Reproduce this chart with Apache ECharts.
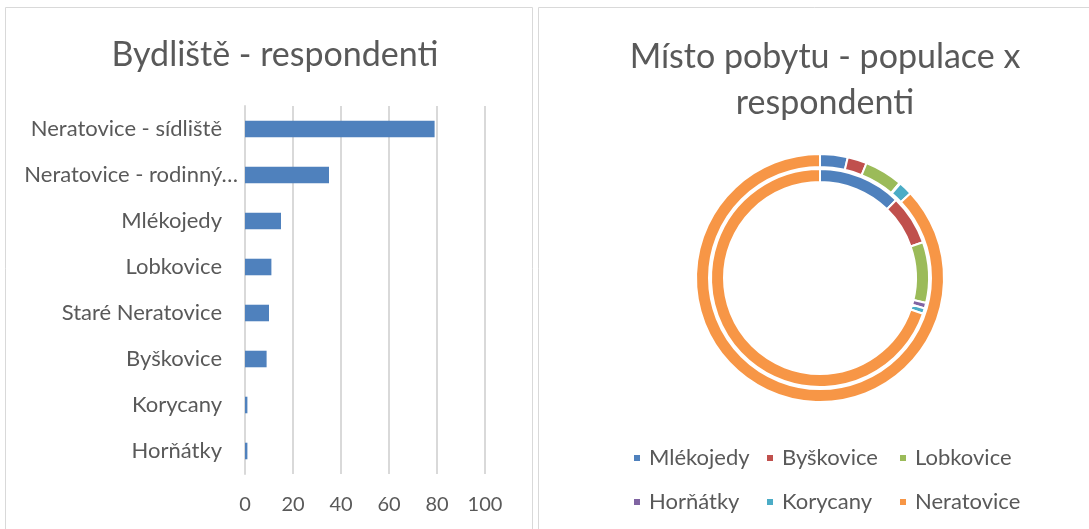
<!DOCTYPE html>
<html>
<head>
<meta charset="utf-8">
<script src="https://cdn.jsdelivr.net/npm/echarts@6/dist/echarts.min.js"></script>
<style>
  html, body { margin: 0; padding: 0; background: #fff; }
  #main { width: 1089px; height: 529px; }
</style>
</head>
<body>
<div id="main"></div>
<script>
// data - sloupcovy graf (bydliste)
var barCategories = ['Neratovice - sídliště', 'Neratovice - rodinný…', 'Mlékojedy', 'Lobkovice',
                     'Staré Neratovice', 'Byškovice', 'Korycany', 'Horňátky'];
var barValues = [79, 35, 15, 11, 10, 9, 1, 1];
var xTicks = [0, 20, 40, 60, 80, 100];

// data - prstencovy graf (populace x respondenti)
var places = ['Mlékojedy', 'Byškovice', 'Lobkovice', 'Horňátky', 'Korycany', 'Neratovice'];
var population = [600, 420, 830, 20, 300, 14500];
var respondents = [15, 9, 11, 1, 1, 85];

var colors = ['#4F81BD', '#C0504D', '#9BBB59', '#8064A2', '#4BACC6', '#F79646'];
var font = 'Lato';
var textColor = '#595959';

var chart = echarts.init(document.getElementById('main'));

function ring(name, values, radius) {
    return {
        name: name,
        type: 'pie',
        center: [820, 278],
        radius: radius,
        startAngle: 90,
        label: { show: false },
        labelLine: { show: false },
        itemStyle: { borderColor: '#fff', borderWidth: 2 },
        emphasis: { disabled: true },
        data: places.map(function (p, i) {
            return { name: p, value: values[i] };
        })
    };
}

function legendCol(names, left) {
    return {
        orient: 'vertical',
        left: left,
        top: 442,
        itemGap: 22,
        itemWidth: 8,
        itemHeight: 8,
        icon: 'rect',
        data: names,
        textStyle: { color: textColor, fontSize: 22, fontFamily: font, padding: [0, 0, 0, 3] }
    };
}

// posledni popisek je v originale zkraceny a presahuje doprava
var yData = barCategories.map(function (c) {
    if (c.indexOf('…') > 0) {
        return { value: c, textStyle: { padding: [0, -16, 0, 0] } };
    }
    return c;
});

option = {
    color: colors,
    title: [
        {
            text: 'Bydliště - respondenti',
            left: 270, top: 27, textAlign: 'center',
            textStyle: { color: textColor, fontSize: 34, fontWeight: 'normal', fontFamily: font, lineHeight: 46 }
        },
        {
            text: 'Místo pobytu - populace x\nrespondenti',
            left: 820, top: 29, textAlign: 'center',
            textStyle: { color: textColor, fontSize: 34, fontWeight: 'normal', fontFamily: font, lineHeight: 46 }
        }
    ],
    legend: [
        legendCol(['Mlékojedy', 'Horňátky'], 627),
        legendCol(['Byškovice', 'Korycany'], 760),
        legendCol(['Lobkovice', 'Neratovice'], 893)
    ],
    grid: { left: 245, top: 106, width: 240, height: 368 },
    xAxis: {
        type: 'value',
        min: xTicks[0],
        max: xTicks[xTicks.length - 1],
        interval: 20,
        axisLine: { show: false },
        axisTick: { show: false },
        axisLabel: { color: textColor, fontSize: 20, fontFamily: font, margin: 21 },
        splitLine: { lineStyle: { color: '#d9d9d9', width: 2 } }
    },
    yAxis: {
        type: 'category',
        inverse: true,
        data: yData,
        axisLine: { lineStyle: { color: '#d9d9d9', width: 2 } },
        axisTick: { show: false },
        axisLabel: { color: textColor, fontSize: 22, fontFamily: font, margin: 23 }
    },
    series: [
        {
            type: 'bar',
            data: barValues,
            barCategoryGap: '64%',
            itemStyle: { color: '#4F81BD' },
            emphasis: { disabled: true }
        },
        ring('Populace', population, [111, 124]),
        ring('Respondenti', respondents, [96, 109])
    ],
    graphic: [
        { type: 'rect', shape: { x: 5.5, y: 7.5, width: 527, height: 530 }, style: { fill: null, stroke: '#d9d9d9', lineWidth: 1 } },
        { type: 'rect', shape: { x: 538.5, y: 7.5, width: 560, height: 530 }, style: { fill: null, stroke: '#d9d9d9', lineWidth: 1 } }
    ]
};

chart.setOption(option);
</script>
</body>
</html>
